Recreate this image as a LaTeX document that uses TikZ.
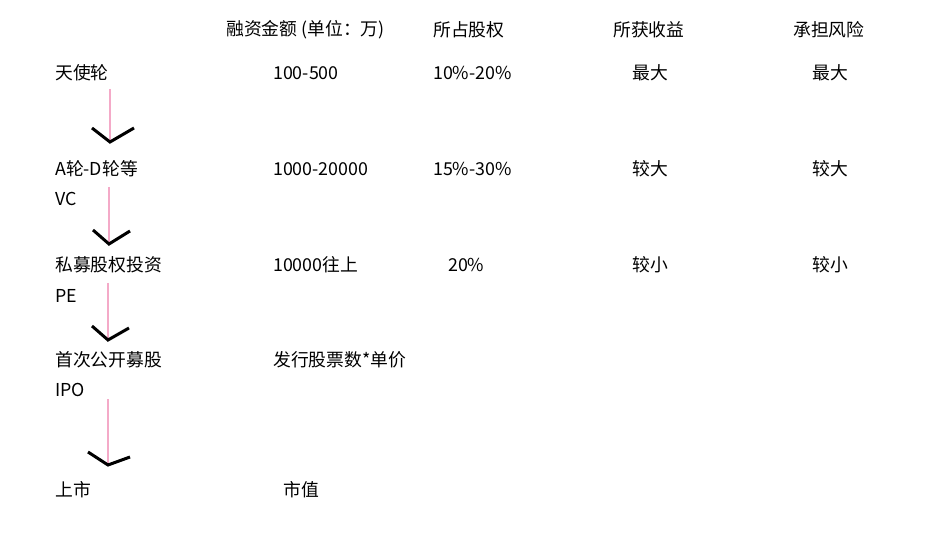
\documentclass[tikz,border=0pt]{standalone}
\usepackage{fontspec}
\setmainfont{Noto Sans CJK SC}
\usepackage{tikz}
\definecolor{flowpink}{RGB}{244,170,200}

\begin{document}
\begin{tikzpicture}[x=1pt,y=-1pt,
	txt/.style={anchor=west,inner sep=0pt,font=\fontsize{17.8}{20}\selectfont},
	flow/.style={draw=flowpink,line width=2.5pt},
	tip/.style={draw=black,line width=3pt}]
	
	\useasboundingbox (0,0) rectangle (948,545);
	
	% column heads
	\node[txt] (amount) at (226,30) {融资金额 (单位：万)};
	\node[txt] (share) at (433,30) {所占股权};
	\node[txt] (gain) at (613,30) {所获收益};
	\node[txt] (risk) at (793,30) {承担风险};
	
	% stages
	\node[txt] (angel) at (55,73) {天使轮};
	\node[txt] (vc) at (55,169) {A轮-D轮等};
	\node[txt] (vcb) at (55,199) {VC};
	\node[txt] (pe) at (55,265) {私募股权投资};
	\node[txt] (peb) at (55,296) {PE};
	\node[txt] (ipo) at (55,360) {首次公开募股};
	\node[txt] (ipob) at (55,390) {IPO};
	\node[txt] (listed) at (55,490) {上市};
	
	% values
	\node[txt] (angelamt) at (273,73) {100-500};
	\node[txt] (angelshare) at (433,73) {10\%-20\%};
	\node[txt] (angelgain) at (632,73) {最大};
	\node[txt] (angelrisk) at (812,73) {最大};
	
	\node[txt] (vcamt) at (273,169) {1000-20000};
	\node[txt] (vcshare) at (433,169) {15\%-30\%};
	\node[txt] (vcgain) at (632,169) {较大};
	\node[txt] (vcrisk) at (812,169) {较大};
	
	\node[txt] (peamt) at (273,265) {10000往上};
	\node[txt] (peshare) at (448,265) {20\%};
	\node[txt] (pegain) at (632,265) {较小};
	\node[txt] (perisk) at (812,265) {较小};
	
	\node[txt] (ipoamt) at (273,360) {发行股票数*单价};
	\node[txt] (listedamt) at (283,490) {市值};
	
	% arrows
	\coordinate (s1) at (110,89);  \coordinate (t1) at (110,142);
	\coordinate (s2) at (109,187); \coordinate (t2) at (109,244);
	\coordinate (s3) at (108,283); \coordinate (t3) at (108,340);
	\coordinate (s4) at (108,399); \coordinate (t4) at (108,465);
	
	\path[flow] (s1) edge (t1);
	\path[flow] (s2) edge (t2);
	\path[flow] (s3) edge (t3);
	\path[flow] (s4) edge (t4);
	
	\draw[tip] (92,128) -- (t1) -- (134,128);
	\draw[tip] (93,230) -- (t2) -- (130,231);
	\draw[tip] (92,326) -- (t3) -- (129,328);
	\draw[tip] (88,452) -- (t4) -- (130,457);
	
\end{tikzpicture}
\end{document}
